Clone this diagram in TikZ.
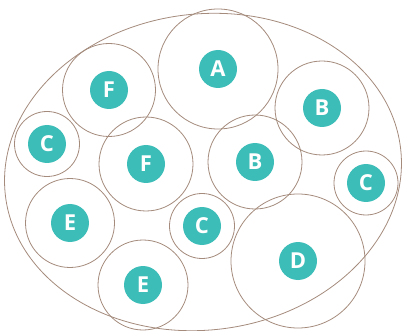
\documentclass[tikz,border=0pt]{standalone}
\usepackage{fontspec}
\setsansfont{Open Sans}
\usepackage{tikz}
\usetikzlibrary{positioning}
\definecolor{ringbrown}{HTML}{A48B7C}
\definecolor{tealdot}{HTML}{3DBDB8}

\begin{document}
\begin{tikzpicture}[x=1pt, y=-1pt,
    ring/.style={draw=ringbrown, line width=0.8pt, circle, inner sep=0pt},
    tag/.style={circle, fill=tealdot, text=white, minimum size=38pt, inner sep=0pt, font=\sffamily\bfseries\fontsize{22}{22}\selectfont}]
        \useasboundingbox (0,0) rectangle (404,331);
        % outer egg
        \draw[ringbrown, line width=0.8pt, rotate around={7:(203,172)}] (203,172) ellipse [x radius=199pt, y radius=158pt];
        % rings
        \node[ring, minimum size=120pt] (a) at (218,69) {};
        \node[ring, minimum size=93pt] (f1) at (109,90) {};
        \node[ring, minimum size=94pt] (b1) at (322,108) {};
        \node[ring, minimum size=65pt] (c1) at (47,144) {};
        \node[ring, minimum size=94pt] (f2) at (146,164) {};
        \node[ring, minimum size=94pt] (b2) at (255,162) {};
        \node[ring, minimum size=64pt] (c2) at (366,183) {};
        \node[ring, minimum size=89pt] (e1) at (70,223) {};
        \node[ring, minimum size=65pt] (c3) at (202,226) {};
        \node[ring, minimum size=90pt] (e2) at (143,285) {};
        \node[ring, minimum size=134pt] (d) at (298,261) {};
        % letters
        \foreach \n/\l in {a/A,f1/F,b1/B,c1/C,f2/F,b2/B,c2/C,e1/E,c3/C,e2/E,d/D}{\node[tag] (tag-\n) at (\n.center) {\l};}
      \end{tikzpicture}
\end{document}
